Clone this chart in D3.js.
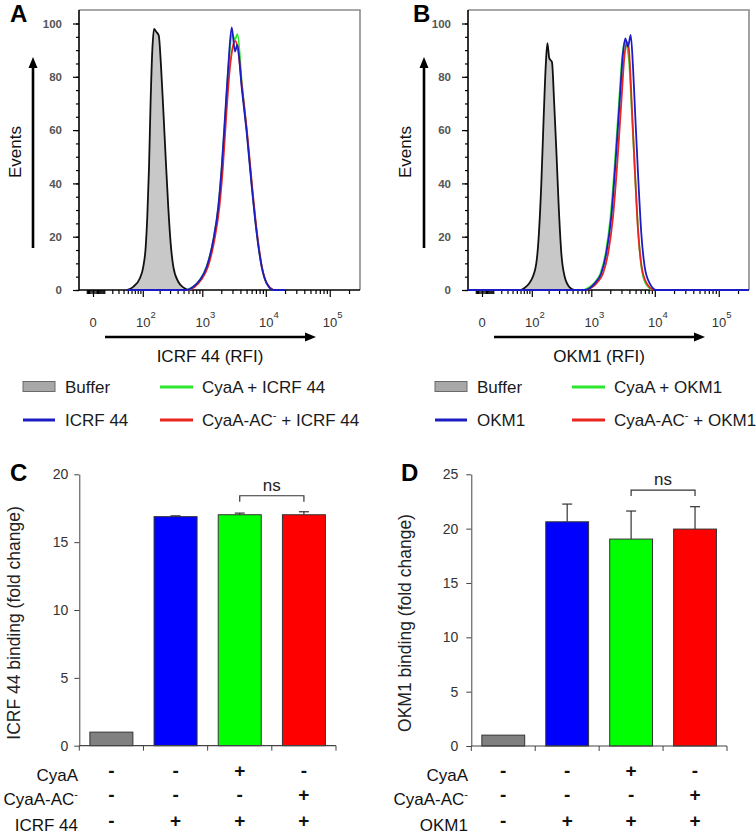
<!DOCTYPE html>
<html><head><meta charset="utf-8">
<script src="https://cdn.jsdelivr.net/npm/d3@7"></script>
<style>
body{margin:0;background:#fff}
svg{display:block}
text{font-family:"Liberation Sans",Arial,sans-serif}
</style>
</head><body>
<svg id="c" width="756" height="834"></svg>
<script>
// ---------------- DATA ----------------
// Flow-cytometry histograms: [RFI, events]
const bufferA = [[47,0],[65,1.2],[88,4.4],[102,8.7],[113,16],[121,27.5],[130,46],[139,71],[149,90],[160,98],[173,97],[193,95.5],[211,84],[231,67.5],[254,49],[280,31],[307,17.5],[340,8.7],[410,3.1],[495,1],[597,0]];
const greenA = [[560,0],[715,1.2],[915,3.8],[1170,8.7],[1500,18.8],[1800,31.3],[2040,46],[2310,65],[2620,85],[2960,96],[3300,94],[3600,96],[4230,77],[5060,59],[6050,39],[7220,21.3],[8620,8.7],[10300,2.5],[13100,0]];
const redA = [[600,0],[760,1.2],[960,3.8],[1230,8.7],[1560,18.8],[1870,31.3],[2120,46],[2390,65],[2700,82],[3020,91],[3300,93.5],[3620,91],[4250,76],[5100,59],[6100,39],[7300,21.3],[8700,8.7],[10400,2.5],[13200,0]];
const blueA = [[47,0],[562,0],[718,1.2],[920,3.8],[1176,8.7],[1496,18.8],[1794,31.3],[2030,46],[2290,65],[2580,84],[2918,98.5],[3290,89.5],[3576,92],[4190,76],[5024,59],[6016,39],[7206,21.3],[8630,8.7],[10332,2.5],[13112,0],[20000,0]];

const bufferB = [[62,0],[98,3.8],[121,10],[135,21.3],[149,40],[164,65],[178,84],[190,92.6],[205,87],[228,85.5],[247,71.3],[270,52.5],[296,31.3],[327,13.8],[372,5],[449,1],[541,0]];
const greenB = [[760,0],[1100,2.5],[1400,6.3],[1690,13.8],[2020,27.5],[2380,48.8],[2760,71.3],[3100,88],[3400,93.5],[3700,91],[3950,86],[4300,70],[4750,50],[5300,28],[6000,11],[7000,3],[9000,0]];
const redB = [[840,0],[1210,2.5],[1540,6.3],[1850,13.8],[2210,27.5],[2600,48.8],[3000,71.3],[3350,88],[3650,93],[3900,91],[4083,84],[4440,65],[4893,44],[5512,21],[6230,8.7],[7460,2.5],[9460,0]];
const blueB = [[-13.1,0],[785,0],[1134,2.5],[1442,6.3],[1730,13.8],[2074,27.5],[2434,48.8],[2818,71.3],[3172,88.8],[3448,94.4],[3800,91.3],[4188,95.7],[4552,83.8],[4950,65],[5456,43.8],[6146,21.3],[6946,8.7],[8318,2.5],[10548,0],[297000,0]];

const histYTicks = [0,20,40,60,80,100];
const histXMajor = [0,100,1000,10000,100000];
const histXExp = [null,"2","3","4","5"];

const legendA = ["Buffer","ICRF 44","CyaA + ICRF 44","ICRF 44"];
const legendB = ["Buffer","OKM1","CyaA + OKM1","OKM1"];

// Bar charts
const barColors = ["#808080","#0000ff","#00ff00","#ff0000"];
const valuesC = [1, 16.88, 17.02, 17.02];
const errorsC = [0, 0.06, 0.12, 0.22];
const valuesD = [1, 20.63, 19.04, 19.96];
const errorsD = [0, 1.63, 2.58, 2.06];
const ticksC = [0,5,10,15,20];
const ticksD = [0,5,10,15,20,25];
const rowsC = ["CyaA","CyaA-AC","ICRF 44"];
const rowsD = ["CyaA","CyaA-AC","OKM1"];
const signs = [["-","-","+","-"],["-","-","-","+"],["-","+","+","+"]];

const histColors = {green:"#2ee62e", red:"#e8261e", blue:"#1c1cc4"};

// ---------------- DRAW ----------------
const svg = d3.select("#c");
const FONT = '"Liberation Sans",Arial,sans-serif';

function arrowH(g, x1, x2, y) {
  g.append("line").attr("x1",x1).attr("x2",x2-9).attr("y1",y).attr("y2",y).attr("stroke","#000").attr("stroke-width",2.6);
  g.append("path").attr("d",`M${x2},${y}L${x2-11},${y-4.5}L${x2-11},${y+4.5}Z`).attr("fill","#000");
}
function arrowV(g, x, y1, y2) { // y2 tip (top)
  g.append("line").attr("x1",x).attr("x2",x).attr("y1",y1).attr("y2",y2+9).attr("stroke","#000").attr("stroke-width",2.6);
  g.append("path").attr("d",`M${x},${y2}L${x-4.5},${y2+11}L${x+4.5},${y2+11}Z`).attr("fill","#000");
}

function minorTicksX() {
  const t = [-5,-4,-3,-2,-1,1,2,3,4,5,6,7,8,9];
  [10,100,1000,10000,100000].forEach(d => { for (let k=1;k<10;k++){ if (!(k===1 && d>=100)) t.push(k*d);} });
  return t.filter(v => v < 297000);
}

function drawHist(dx, buffer, greenS, redS, blueS, xTitle, letter, legendLabels, ldx) {
  const g = svg.append("g");
  const x = d3.scaleSymlog().constant(20).domain([-13.1, 297000]).range([79+dx, 360+dx]);
  const y = d3.scaleLinear().domain([0,100]).range([290, 23.5]);
  const clipId = "clip"+letter;
  svg.append("clipPath").attr("id",clipId).append("rect")
    .attr("x",79+dx).attr("y",10).attr("width",281).attr("height",281);

  // frame
  g.append("path").attr("d",`M${79+dx},10H${360+dx}V290`).attr("fill","none").attr("stroke","#8c8c8c").attr("stroke-width",1.6);

  // y axis
  const yMinor = d3.range(0,101,5);
  const ya = g.append("g").attr("transform",`translate(${79+dx},0)`);
  ya.call(d3.axisLeft(y).tickValues(yMinor).tickSize(3).tickFormat(""));
  ya.select(".domain").remove();
  const yb = g.append("g").attr("transform",`translate(${79+dx},0)`);
  yb.call(d3.axisLeft(y).tickValues(histYTicks).tickSize(6).tickPadding(11));
  yb.select(".domain").remove();
  yb.selectAll("text").attr("font-size",11.5).attr("font-weight","bold").attr("fill","#555").attr("font-family",FONT);
  g.selectAll(".tick line").attr("stroke","#000");
  g.append("line").attr("x1",79+dx).attr("x2",79+dx).attr("y1",10).attr("y2",290.5).attr("stroke","#000").attr("stroke-width",1.6);

  // x axis
  const xa = g.append("g").attr("transform","translate(0,290)");
  xa.call(d3.axisBottom(x).tickValues(minorTicksX()).tickSize(4).tickFormat(""));
  xa.select(".domain").remove();
  const xb = g.append("g").attr("transform","translate(0,290)");
  xb.call(d3.axisBottom(x).tickValues(histXMajor).tickSize(7).tickFormat(""));
  xb.select(".domain").remove();
  g.selectAll(".tick line").attr("stroke","#000").attr("stroke-width",1.2);
  g.append("line").attr("x1",79+dx).attr("x2",360+dx).attr("y1",290).attr("y2",290).attr("stroke","#000").attr("stroke-width",1.6);

  // x tick labels
  histXMajor.forEach((v,i) => {
    const t = g.append("text").attr("y",326.5).attr("font-size",13).attr("fill","#333").attr("text-anchor","middle");
    if (histXExp[i] === null) {
      t.attr("x", x(v)).text("0");
    } else {
      t.attr("x", x(v)+3);
      t.append("tspan").text("10");
      t.append("tspan").attr("font-size",9.5).attr("dy",-9).text(histXExp[i]);
    }
  });

  // curves
  const area = d3.area().x(d=>x(d[0])).y0(y(0)).y1(d=>y(d[1])).curve(d3.curveMonotoneX);
  const line = d3.line().x(d=>x(d[0])).y(d=>y(d[1])).curve(d3.curveMonotoneX);
  const cg = g.append("g").attr("clip-path",`url(#${clipId})`);
  cg.append("path").attr("d",area(buffer)).attr("fill","#c8c8c8").attr("stroke","#111").attr("stroke-width",1.8);
  cg.append("path").attr("d",line(greenS)).attr("fill","none").attr("stroke",histColors.green).attr("stroke-width",1.8);
  cg.append("path").attr("d",line(redS)).attr("fill","none").attr("stroke",histColors.red).attr("stroke-width",1.8);
  cg.append("path").attr("d",line(blueS)).attr("fill","none").attr("stroke",histColors.blue).attr("stroke-width",1.8);

  // axis arrows + titles
  arrowH(g, 105+dx, 316+dx, 337);
  g.append("text").attr("x",210+dx).attr("y",361.5).attr("text-anchor","middle").attr("font-size",17).attr("fill","#111").text(xTitle);
  arrowV(g, 33+dx+(dx?2:0), 248, 57);
  g.append("text").attr("transform",`translate(${15+dx+(dx?1:0)},152) rotate(-90)`).attr("text-anchor","middle")
    .attr("dominant-baseline","central").attr("font-size",17).attr("fill","#111").text("Events");

  // panel letter
  g.append("text").attr("x",10+dx+(dx?14:0)).attr("y",22).attr("font-size",24).attr("font-weight","bold").text(letter);

  // legend
  const lg = svg.append("g").attr("font-size",17).attr("fill","#1a1a1a");
  lg.append("rect").attr("x",23+ldx).attr("y",381.5).attr("width",32).attr("height",10).attr("fill","#a8a8a8").attr("stroke","#6a6a6a").attr("stroke-width",1);
  lg.append("text").attr("x",65+ldx).attr("y",393).text(legendLabels[0]);
  lg.append("line").attr("x1",23+ldx).attr("x2",55+ldx).attr("y1",420).attr("y2",420).attr("stroke",histColors.blue).attr("stroke-width",3);
  lg.append("text").attr("x",65+ldx).attr("y",426).text(legendLabels[1]);
  lg.append("line").attr("x1",160+ldx).attr("x2",193+ldx).attr("y1",387).attr("y2",387).attr("stroke",histColors.green).attr("stroke-width",3);
  lg.append("text").attr("x",202+ldx).attr("y",393).text(legendLabels[2]);
  lg.append("line").attr("x1",160+ldx).attr("x2",193+ldx).attr("y1",420).attr("y2",420).attr("stroke",histColors.red).attr("stroke-width",3);
  const rt = lg.append("text").attr("x",202+ldx).attr("y",426);
  rt.append("tspan").text("CyaA-AC");
  rt.append("tspan").attr("font-size",11).attr("dy",-7).text("-");
  rt.append("tspan").attr("dy",7).text(" + " + legendLabels[3]);
}

function drawBars(dx, values, errors, ticks, ymax, y0px, ylabel, rows, letter, bracketV, axisX0, axisX1, lblX, tickPad) {
  const g = svg.append("g");
  const x = d3.scaleBand().domain(d3.range(values.length)).range([axisX0, axisX1]).paddingInner(0.33).paddingOuter(0.165);
  const y = d3.scaleLinear().domain([0,ymax]).range([y0px, 474.3]);

  // bars
  g.selectAll("rect.bar").data(values).join("rect").attr("class","bar")
    .attr("x",(d,i)=>x(i)).attr("width",x.bandwidth())
    .attr("y",d=>y(d)).attr("height",d=>y(0)-y(d))
    .attr("fill",(d,i)=>barColors[i]).attr("stroke","#333").attr("stroke-width",1);

  // error bars
  values.forEach((v,i)=>{
    if (!errors[i]) return;
    const cx = x(i)+x.bandwidth()/2;
    g.append("line").attr("x1",cx).attr("x2",cx).attr("y1",y(v)).attr("y2",y(v+errors[i])).attr("stroke","#333").attr("stroke-width",1.2);
    g.append("line").attr("x1",cx-5).attr("x2",cx+5).attr("y1",y(v+errors[i])).attr("y2",y(v+errors[i])).attr("stroke","#333").attr("stroke-width",1.2);
  });

  // y axis
  const ya = g.append("g").attr("transform",`translate(${axisX0},0)`);
  ya.call(d3.axisLeft(y).tickValues(ticks).tickSize(5).tickPadding(tickPad).tickSizeOuter(0));
  ya.selectAll("text").attr("font-size",14).attr("fill","#333").attr("font-family",FONT);
  ya.selectAll("line,path").attr("stroke","#444");

  // x axis
  g.append("line").attr("x1",axisX0).attr("x2",axisX1).attr("y1",y(0)).attr("y2",y(0)).attr("stroke","#444").attr("stroke-width",1.2);
  const step = x.step();
  d3.range(values.length+1).forEach(i=>{
    const xx = axisX0 + step*i;
    g.append("line").attr("x1",xx).attr("x2",xx).attr("y1",y(0)).attr("y2",y(0)+5).attr("stroke","#444");
  });

  // significance bracket
  const c2 = x(2)+x.bandwidth()/2, c3 = x(3)+x.bandwidth()/2, by = y(bracketV);
  g.append("path").attr("d",`M${c2},${by+6}V${by}H${c3}V${by+6}`).attr("fill","none").attr("stroke","#333").attr("stroke-width",1.2);
  g.append("text").attr("x",(c2+c3)/2).attr("y",by-5).attr("text-anchor","middle").attr("font-size",17).attr("fill","#222").text("ns");

  // y label
  g.append("text").attr("transform",`translate(${13.5+dx},623) rotate(-90)`).attr("text-anchor","middle")
    .attr("dominant-baseline","central").attr("font-size",17.5).attr("fill","#222").text(ylabel);

  // letter
  g.append("text").attr("x",10+dx).attr("y",481).attr("font-size",24).attr("font-weight","bold").text(letter);

  // table
  const rowY = [781, 805, 831];
  rows.forEach((r,ri)=>{
    const t = g.append("text").attr("x",lblX).attr("y",rowY[ri]).attr("text-anchor","end").attr("font-size",17).attr("fill","#111");
    if (r === "CyaA-AC") {
      t.append("tspan").text("CyaA-AC");
      t.append("tspan").attr("font-size",11).attr("dy",-7).text("-");
    } else t.text(r);
    signs[ri].forEach((s,ci)=>{
      g.append("text").attr("x",x(ci)+x.bandwidth()/2).attr("y",rowY[ri]-4).attr("text-anchor","middle")
        .attr("font-size",19).attr("font-weight","bold").attr("fill","#111").text(s);
    });
  });
}

drawHist(0, bufferA, greenA, redA, blueA, "ICRF 44 (RFI)", "A", legendA, 0);
drawHist(389, bufferB, greenB, redB, blueB, "OKM1 (RFI)", "B", legendB, 412);
drawBars(0, valuesC, errorsC, ticksC, 20, 745.7, "ICRF 44 binding (fold change)", rowsC, "C", 18.42, 79.3, 336, 78, 6);
drawBars(391, valuesD, errorsD, ticksD, 25, 746, "OKM1 binding (fold change)", rowsD, "D", 23.55, 471.3, 727, 468, 8);
</script>
</body></html>
